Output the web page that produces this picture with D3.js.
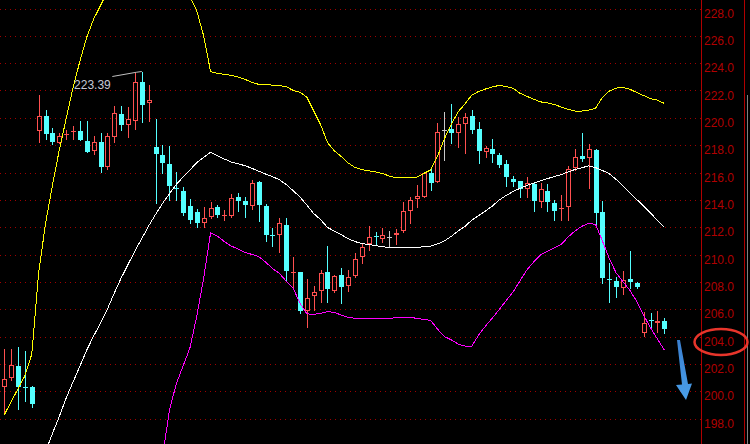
<!DOCTYPE html>
<html><head><meta charset="utf-8">
<script src="https://cdn.jsdelivr.net/npm/d3@7"></script>
<style>html,body{margin:0;padding:0;background:#000;overflow:hidden}</style>
</head><body><svg id="c" width="750" height="444"></svg>
<script>
// ---- data ----
const opens  = [200.28,201.00,201.84,200.32,200.28,219.06,220.13,218.90,218.18,218.80,219.00,219.04,218.30,217.60,218.23,216.42,218.57,220.28,219.50,219.79,222.62,221.06,217.89,217.30,216.62,214.85,214.65,213.55,213.13,212.33,212.72,213.48,212.87,212.84,214.23,213.91,213.57,215.31,213.55,211.45,211.43,212.16,208.72,208.72,205.89,206.94,207.35,208.70,207.35,208.48,207.72,208.43,209.84,210.77,211.38,211.13,211.30,211.40,211.74,213.20,214.08,214.23,215.99,215.33,219.11,219.16,218.91,219.53,220.13,219.16,217.52,217.70,217.28,216.62,215.52,215.36,214.77,215.16,213.82,214.62,213.79,213.30,213.50,216.35,217.21,217.08,217.65,213.13,208.22,208.06,207.57,208.21,207.92,204.28,205.19,204.97,205.16];
const highs  = [203.09,203.09,203.23,202.94,200.36,221.67,220.57,219.28,218.89,219.11,219.40,219.77,219.77,218.67,218.89,218.89,220.87,220.84,220.79,223.30,223.39,222.40,219.90,218.00,217.96,216.04,214.96,214.04,213.33,213.45,213.86,213.62,213.26,214.43,214.48,214.21,215.45,215.38,213.70,211.92,212.65,212.67,209.80,208.74,208.19,207.70,208.87,210.62,208.50,208.99,208.87,210.09,210.77,212.09,211.65,211.92,211.72,211.87,213.86,214.23,215.09,216.00,216.31,219.60,220.40,220.99,220.08,220.33,220.57,219.70,217.96,218.43,217.45,216.91,215.74,215.40,215.69,215.21,215.21,215.16,213.99,214.36,216.48,217.70,218.87,218.09,217.72,213.94,209.40,208.33,208.79,210.26,208.01,205.77,205.74,205.87,205.33];
const lows   = [198.50,200.80,198.72,199.30,198.86,218.25,218.47,218.06,218.14,218.43,218.47,218.36,217.52,217.38,216.06,216.28,218.25,219.09,218.57,219.16,219.72,219.79,213.75,215.98,213.97,213.99,212.89,212.31,211.99,211.99,212.65,212.77,212.52,212.77,213.20,212.77,213.31,212.45,211.01,210.64,210.20,208.08,207.53,205.74,204.67,205.94,206.55,206.50,207.28,206.43,207.35,208.33,209.40,210.33,210.70,210.94,210.53,210.75,211.67,212.33,213.45,214.20,214.72,215.30,216.91,218.18,217.89,217.45,218.87,216.72,217.11,216.79,216.42,215.03,215.03,214.23,214.19,213.20,213.50,213.20,212.52,212.52,212.52,216.18,216.86,214.89,212.03,207.89,206.55,206.87,207.09,207.53,207.57,204.04,204.53,204.35,204.28];
const closes = [200.87,201.92,200.28,200.28,199.08,220.13,218.84,218.23,218.67,218.84,219.06,218.38,217.52,218.21,216.42,218.67,220.33,219.50,219.92,222.60,220.96,221.30,217.38,216.72,214.99,214.80,213.06,212.56,212.28,212.65,213.38,212.89,212.89,214.11,213.91,213.62,215.25,213.62,211.43,211.43,212.28,208.81,208.74,205.89,206.80,207.23,208.62,207.45,208.40,207.64,208.33,209.65,210.53,211.26,211.26,211.40,211.30,211.55,213.18,213.99,214.28,215.94,215.25,218.94,219.11,218.91,219.53,220.06,219.11,217.60,217.79,217.35,216.55,215.65,215.33,214.81,215.25,213.89,214.77,213.86,213.20,213.38,216.23,217.11,217.01,217.70,213.01,208.26,208.19,207.64,208.11,208.01,207.62,204.97,205.11,205.11,204.53];

const upperBand = [198.27,199.23,200.18,201.13,202.72,208.68,212.28,215.05,217.65,219.94,
  222.2,224.16,225.91,227.23,228.22,229.22,229.95,230.55,231.0,231.3,
  231.45,231.5,231.45,231.25,230.95,230.45,229.75,228.85,227.82,225.99,
  223.39,223.24,223.19,223.1,222.99,222.82,222.59,222.45,222.45,222.39,
  222.35,222.29,222.01,221.87,221.52,220.51,219.51,218.2,217.59,217.17,
  216.71,216.37,216.21,216.12,216.04,215.93,215.74,215.6,215.65,215.65,
  215.65,215.93,216.18,217.17,218.45,219.51,220.43,221.01,221.67,221.93,
  222.11,222.27,222.37,222.29,222.17,221.8,221.58,221.36,221.17,221.09,
  220.98,220.79,220.62,220.5,220.5,220.57,220.7,221.5,221.96,222.18,
  222.23,222.09,221.85,221.63,221.41,221.29,221.06];
const midBand = [null,null,null,null,null,
  194.3,195.59,196.9,198.15,199.5,200.67,
  201.84,203.01,204.04,204.99,206.01,207.18,208.28,209.27,210.26,211.17,
  212.09,212.93,213.73,214.43,215.12,215.67,216.18,216.73,217.1,217.48,
  217.24,216.99,216.77,216.64,216.5,216.31,216.1,215.89,215.7,215.47,
  215.12,214.68,214.21,213.62,213.0,212.56,211.98,211.72,211.46,211.16,
  210.95,210.8,210.73,210.66,210.56,210.53,210.53,210.53,210.53,210.53,
  210.56,210.62,210.77,210.99,211.32,211.72,212.05,212.52,212.85,213.18,
  213.55,213.99,214.32,214.61,214.84,215.04,215.23,215.4,215.55,215.7,
  215.85,216.04,216.22,216.35,216.48,216.36,216.15,215.91,215.49,215.01,
  214.5,214.02,213.55,213.04,212.49,211.98];
const lowerBand = [null,null,null,null,null,null,null,null,null,null,null,null,null,null,null,null,null,null,null,null,null,null,null,
  195.11,198.55,200.52,201.84,203.16,205.5,208.28,211.57,
  211.35,210.95,210.62,210.4,210.15,210.01,209.85,209.45,208.98,208.62,
  208.06,207.55,206.45,205.66,205.62,205.7,205.82,205.76,205.57,205.4,
  205.33,205.33,205.33,205.33,205.33,205.33,205.37,205.4,205.4,205.33,
  205.24,205.19,204.55,204.0,203.76,203.45,203.3,203.3,204.11,204.77,
  205.35,205.98,206.63,207.26,208.06,208.87,209.45,209.98,210.23,210.48,
  210.73,211.28,211.72,212.06,212.28,212.2,210.99,209.71,208.65,208.0,
  207.37,206.56,205.54,204.64,203.82,203.01];

const tickValues = [198,200,202,204,206,208,210,212,214,216,218,220,222,224,226,228];
const peakLabel = "223.39";
const peakIndex = 20;
const circledTick = 204;

// ---- layout ----
const W = 750, H = 444;
const svg = d3.select("#c");
svg.append("rect").attr("width", W).attr("height", H).attr("fill", "#000");

const slots = 102;
const x = d3.scaleBand().domain(d3.range(slots)).range([0.86, 0.86 + slots * 6.875]).padding(0);
const bw = x.bandwidth();
const cx = i => x(i) + bw / 2;
const y = d3.scaleLinear().domain([198, 228]).range([418.5, 8.5]);
const axisX = 701;

const RED = "#ff5050", CYAN = "#54ffff", GRAY = "#c8c8c8", AXISRED = "#b00000";

// grid lines
svg.append("g").selectAll("line").data(tickValues).join("line")
  .attr("x1", 0).attr("x2", axisX)
  .attr("y1", d => Math.round(y(d)) + 0.5).attr("y2", d => Math.round(y(d)) + 0.5)
  .attr("stroke", "#a00000").attr("stroke-width", 1)
  .attr("stroke-dasharray", "1.2,3.8").attr("shape-rendering", "crispEdges");

// candles
const candles = d3.range(opens.length).map(i => ({i, o: opens[i], h: highs[i], l: lows[i], c: closes[i]}));
const cg = svg.append("g").attr("shape-rendering", "crispEdges");
candles.forEach(d => {
  const px = Math.round(cx(d.i));
  const col = d.c > d.o ? RED : (d.c < d.o ? CYAN : GRAY);
  const yTop = Math.round(y(Math.max(d.o, d.c)));
  const yBot = Math.round(y(Math.min(d.o, d.c)));
  const yH = Math.round(y(d.h)), yL = Math.round(y(d.l));
  const g = cg.append("g");
  if (yBot - yTop < 2) {
    g.append("line").attr("x1", px + 0.5).attr("x2", px + 0.5).attr("y1", yH).attr("y2", yL + 1).attr("stroke", col);
    g.append("line").attr("x1", px - 2).attr("x2", px + 3).attr("y1", yTop + 0.5).attr("y2", yTop + 0.5).attr("stroke", col);
  } else if (d.c > d.o) {
    g.append("line").attr("x1", px + 0.5).attr("x2", px + 0.5).attr("y1", yH).attr("y2", yTop).attr("stroke", col);
    g.append("line").attr("x1", px + 0.5).attr("x2", px + 0.5).attr("y1", yBot).attr("y2", yL + 1).attr("stroke", col);
    g.append("rect").attr("x", px - 1.5).attr("y", yTop + 0.5).attr("width", 4).attr("height", yBot - yTop - 1)
      .attr("fill", "none").attr("stroke", col);
  } else {
    g.append("line").attr("x1", px + 0.5).attr("x2", px + 0.5).attr("y1", yH).attr("y2", yL + 1).attr("stroke", col);
    g.append("rect").attr("x", px - 2).attr("y", yTop).attr("width", 5).attr("height", yBot - yTop).attr("fill", col);
  }
});

// bands
const band = (arr, color) => {
  const line = d3.line().defined(v => v != null).x((v, i) => cx(i)).y(v => y(v));
  svg.append("path").attr("d", line(arr)).attr("fill", "none").attr("stroke", color)
    .attr("stroke-width", 1).attr("shape-rendering", "crispEdges");
};
band(midBand, "#ffffff");
band(upperBand, "#ffff00");
band(lowerBand, "#ff00ff");

// peak annotation
const pkx = cx(peakIndex), pky = y(+peakLabel);
svg.append("path").attr("d", d3.line()([[pkx - 29.5, pky + 5], [pkx - 5, pky + 0.7], [pkx, pky]]))
  .attr("fill", "none").attr("stroke", "#c0c0c0").attr("stroke-width", 1);
svg.append("text").attr("x", pkx - 31).attr("y", pky + 17.5).attr("text-anchor", "end")
  .attr("font-family", "Liberation Sans, Arial, sans-serif").attr("font-size", 12)
  .attr("fill", "#c4cad6").text(peakLabel);

// right axis
const ax = svg.append("g").attr("transform", `translate(${axisX},0)`)
  .call(d3.axisRight(y).tickValues(tickValues).tickFormat(d3.format(".1f")).tickSize(0).tickPadding(3));
ax.select(".domain").remove();
ax.selectAll("text").attr("dy", "0.72em").attr("fill", AXISRED)
  .attr("font-family", "Liberation Sans, Arial, sans-serif").attr("font-size", 12);
svg.append("line").attr("x1", axisX + 0.5).attr("x2", axisX + 0.5).attr("y1", 0).attr("y2", H)
  .attr("stroke", AXISRED).attr("shape-rendering", "crispEdges");
svg.append("line").attr("x1", 744.5).attr("x2", 744.5).attr("y1", 0).attr("y2", H)
  .attr("stroke", AXISRED).attr("shape-rendering", "crispEdges");
svg.append("line").attr("x1", 747.5).attr("x2", 747.5).attr("y1", 95).attr("y2", H)
  .attr("stroke", "#808080").attr("shape-rendering", "crispEdges");

// highlight ellipse around 204.0
svg.append("ellipse").attr("cx", 721).attr("cy", y(circledTick) + 5.5).attr("rx", 26.5).attr("ry", 13)
  .attr("fill", "none").attr("stroke", "#e8352b").attr("stroke-width", 2.5);

// blue down arrow
const defs = svg.append("defs");
const gr = defs.append("linearGradient").attr("id", "ag").attr("x1", 0).attr("y1", 0).attr("x2", 0).attr("y2", 1);
gr.append("stop").attr("offset", "0%").attr("stop-color", "#3a7fd0");
gr.append("stop").attr("offset", "100%").attr("stop-color", "#4aa0ea");
svg.append("path").attr("d", "M677,340 L680,340 L688,384 L692,383.5 L686,400 L676,385 L682,384.5 Z")
  .attr("fill", "url(#ag)");
</script>
</body></html>
